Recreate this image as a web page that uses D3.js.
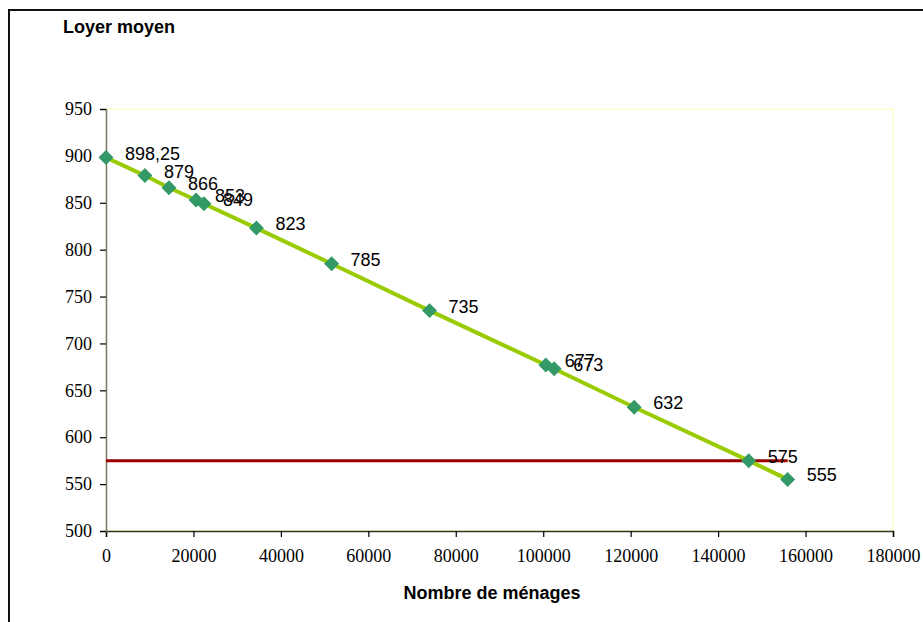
<!DOCTYPE html>
<html>
<head>
<meta charset="utf-8">
<script src="https://cdn.jsdelivr.net/npm/d3@7"></script>
<style>
html, body { margin: 0; padding: 0; background: #fff; }
svg { display: block; }
</style>
</head>
<body>
<svg id="chart" width="923" height="622"></svg>
<script>
// Data
const households = [0, 8900, 14400, 20600, 22400, 34400, 51600, 74000, 100600, 102500, 120800, 147000, 155900];
const rents = [898.25, 879, 866, 853, 849, 823, 785, 735, 677, 673, 632, 575, 555];
const rentLabels = ["898,25", "879", "866", "853", "849", "823", "785", "735", "677", "673", "632", "575", "555"];
const thresholdValue = 575;
const thresholdRange = [0, 155900];
const xTicks = [0, 20000, 40000, 60000, 80000, 100000, 120000, 140000, 160000, 180000];
const yTicks = [500, 550, 600, 650, 700, 750, 800, 850, 900, 950];
const xTitle = "Nombre de ménages";
const yTitle = "Loyer moyen";

const svg = d3.select("#chart");
const plot = { left: 106, right: 893, top: 109, bottom: 531 };

const x = d3.scaleLinear().domain([0, 180000]).range([plot.left, plot.right]);
const y = d3.scaleLinear().domain([500, 950]).range([plot.bottom, plot.top]);

// Outer frame (extends past right and bottom edges)
svg.append("rect")
  .attr("x", 9).attr("y", 10)
  .attr("width", 940).attr("height", 640)
  .attr("fill", "none").attr("stroke", "#111").attr("stroke-width", 2);

// Plot area border (light yellow)
svg.append("rect")
  .attr("x", plot.left).attr("y", plot.top)
  .attr("width", plot.right - plot.left).attr("height", plot.bottom - plot.top)
  .attr("fill", "#fff").attr("stroke", "#ffffcc").attr("stroke-width", 1.5);

// Axes
const xAxis = d3.axisBottom(x).tickValues(xTicks).tickFormat(d => String(d)).tickSizeOuter(0).tickSize(6).tickPadding(8);
const yAxis = d3.axisLeft(y).tickValues(yTicks).tickFormat(d => String(d)).tickSizeOuter(0).tickSize(6).tickPadding(8);

const gx = svg.append("g").attr("transform", `translate(0,${plot.bottom})`).call(xAxis);
const gy = svg.append("g").attr("transform", `translate(${plot.left},0)`).call(yAxis);

[gx, gy].forEach(g => {
  g.selectAll("text")
    .attr("font-family", "'Liberation Serif', 'Times New Roman', serif")
    .attr("font-size", 18)
    .attr("fill", "#000");
  g.selectAll(".tick line").attr("stroke", "#000").attr("stroke-width", 1.2);
});
gx.select(".domain").attr("stroke", "#333322").attr("stroke-width", 1.5);
gy.select(".domain").attr("stroke", "#77776a").attr("stroke-width", 1.5);
gx.selectAll("text").attr("dy", "0.95em");

// Threshold line
svg.append("line")
  .attr("x1", x(thresholdRange[0])).attr("x2", x(thresholdRange[1]))
  .attr("y1", y(thresholdValue)).attr("y2", y(thresholdValue))
  .attr("stroke", "#990000").attr("stroke-width", 3);

// Series line
const pts = households.map((h, i) => ({ x: h, y: rents[i], label: rentLabels[i] }));
svg.append("path")
  .datum(pts)
  .attr("fill", "none")
  .attr("stroke", "#99cc00")
  .attr("stroke-width", 4)
  .attr("d", d3.line().x(d => x(d.x)).y(d => y(d.y)));

// Markers
const diamond = d3.symbol().type(d3.symbolSquare).size(112);
svg.selectAll("path.marker")
  .data(pts)
  .join("path")
  .attr("class", "marker")
  .attr("d", diamond)
  .attr("transform", d => `translate(${x(d.x)},${y(d.y)}) rotate(45)`)
  .attr("fill", "#339966");

// Labels
svg.selectAll("text.lbl")
  .data(pts)
  .join("text")
  .attr("class", "lbl")
  .attr("x", d => x(d.x) + 19)
  .attr("y", d => y(d.y) + 2)
  .attr("font-family", "'Liberation Sans', Arial, sans-serif")
  .attr("font-size", 18)
  .attr("fill", "#000")
  .text(d => d.label);

// Titles
svg.append("text")
  .attr("x", 63).attr("y", 33)
  .attr("font-family", "'Liberation Sans', Arial, sans-serif")
  .attr("font-size", 18).attr("font-weight", "bold")
  .text(yTitle);

svg.append("text")
  .attr("x", 492).attr("y", 599)
  .attr("text-anchor", "middle")
  .attr("font-family", "'Liberation Sans', Arial, sans-serif")
  .attr("font-size", 18).attr("font-weight", "bold")
  .text(xTitle);
</script>
</body>
</html>
